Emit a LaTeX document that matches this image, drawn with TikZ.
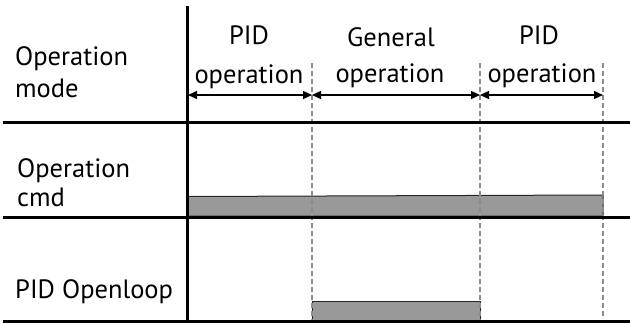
\documentclass[tikz,border=0pt]{standalone}
\usepackage{fontspec}
\setmainfont{PT Sans}
\usetikzlibrary{arrows.meta}
\definecolor{barfill}{HTML}{999999}
\definecolor{dashgray}{HTML}{8C8C8C}
\tikzset{
  lbl/.style={inner sep=0pt, font=\fontsize{26.5}{30}\selectfont},
  thickrule/.style={line width=3pt, black},
  guide/.style={dashgray, line width=1.1pt, dash pattern=on 4.5pt off 3.5pt},
  span/.style={line width=1.4pt, {Triangle[length=9pt,width=8pt]}-{Triangle[length=9pt,width=8pt]}},
  bar/.style={fill=barfill, draw=black!85, line width=1pt}
}
\begin{document}
\begin{tikzpicture}[x=1pt,y=-1pt]
\useasboundingbox (0,0) rectangle (630,324);
% bars
\draw[bar] (188,196.5) -- (603,195) -- (603,216) -- (188,216) -- cycle;
\draw[bar] (312,301) rectangle (480,321);
% guide coordinates
\coordinate (g1t) at (312,63); \coordinate (g1b) at (312,321);
\coordinate (g2t) at (480,63); \coordinate (g2b) at (480,321);
\coordinate (g3t) at (603,63); \coordinate (g3b) at (603,318);
\draw[guide] (g1t) -- (g1b);
\draw[guide] (g2t) -- (g2b);
\draw[guide] (g3t) -- (g3b);
% spans
\coordinate (a0) at (188,95); \coordinate (a1) at (312,95);
\coordinate (a2) at (480,95); \coordinate (a3) at (603,95);
\draw[span] (a0) -- (a1);
\draw[span] (a1) -- (a2);
\draw[span] (a2) -- (a3);
% rules
\coordinate (r1l) at (3,122); \coordinate (r1r) at (630,122);
\coordinate (r2l) at (3,217); \coordinate (r2r) at (630,217);
\coordinate (r3l) at (3,321); \coordinate (r3r) at (630,321);
\coordinate (vt) at (187,6); \coordinate (vb) at (187,322.5);
\draw[thickrule] (r1l) -- (r1r);
\draw[thickrule] (r2l) -- (r2r);
\draw[thickrule] (r3l) -- (r3r);
\draw[thickrule] (vt) -- (vb);
% labels
\node[lbl, anchor=base west] (om1) at (15,65) {Operation};
\node[lbl, anchor=base west] (om2) at (15,97) {mode};
\node[lbl, anchor=base] (p1a) at (249,45) {PID};
\node[lbl, anchor=base] (p1b) at (249,83) {operation};
\node[lbl, anchor=base] (g1a) at (391,46) {General};
\node[lbl, anchor=base] (g1b) at (390,82) {operation};
\node[lbl, anchor=base] (p2a) at (539,45) {PID};
\node[lbl, anchor=base] (p2b) at (542,82) {operation};
\node[lbl, anchor=base west] (oc1) at (17,177) {Operation};
\node[lbl, anchor=base west] (oc2) at (17,206) {cmd};
\node[lbl, anchor=base west] (po) at (15,298) {PID Openloop};
\end{tikzpicture}
\end{document}
